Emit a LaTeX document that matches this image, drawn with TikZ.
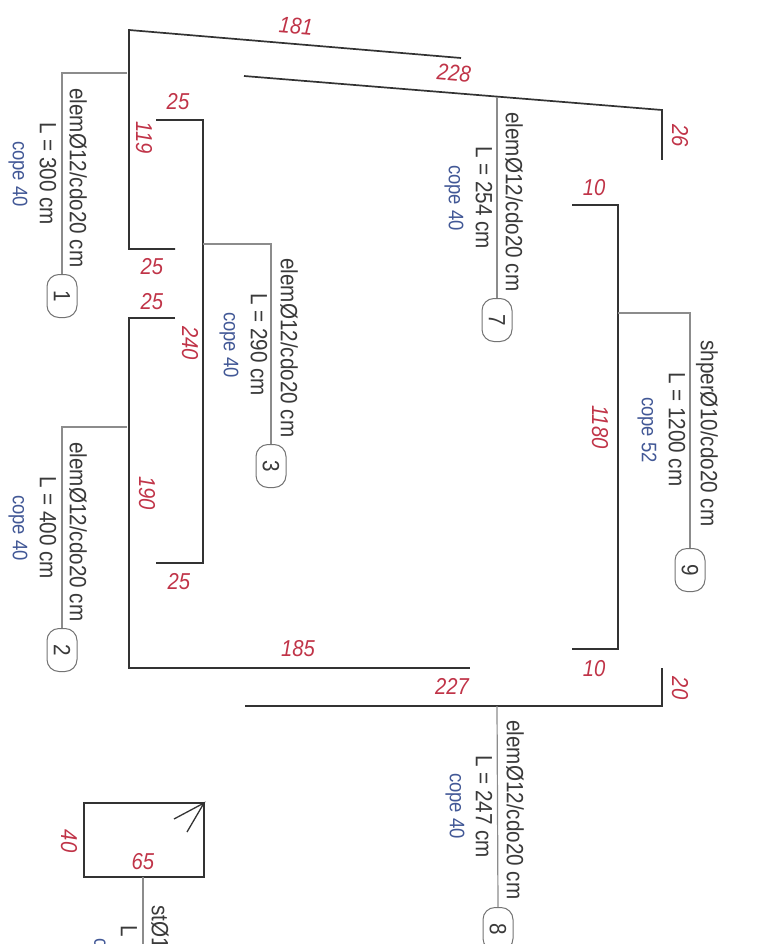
\documentclass[tikz,border=0pt]{standalone}
\usepackage{fontspec}
\setmainfont[FakeStretch=0.88]{Liberation Sans}
\definecolor{dimred}{RGB}{192,52,72}
\definecolor{copeblue}{RGB}{66,88,150}
\definecolor{bartext}{RGB}{58,58,58}
\tikzset{
  barline/.style={draw=black!80,line width=1.7pt,line join=miter},
  branchline/.style={draw=black!45,line width=1.2pt},
  rebartext/.style={rotate=-90,anchor=west,inner sep=0pt,text=bartext,font=\fontsize{23.5}{25}\selectfont},
  copetext/.style={rotate=-90,anchor=west,inner sep=0pt,text=copeblue,font=\fontsize{21}{23}\selectfont},
  dimtext/.style={inner sep=0pt,text=dimred,font=\fontsize{23}{25}\selectfont\itshape},
  dimdown/.style={dimtext,rotate=-90},
  dimtilt/.style={dimtext,rotate=-5},
  numpill/.style={rotate=-90,draw=black!55,line width=1pt,rounded corners=12pt,inner sep=0pt,
    minimum width=43pt,minimum height=30pt,text=bartext,font=\fontsize{23.5}{25}\selectfont},
}
\begin{document}
\begin{tikzpicture}[x=1pt,y=-1pt]
\useasboundingbox (0,0) rectangle (769,944);

% bar 1 and 2, left stirrup
\coordinate (topleft) at (129,30);
\coordinate (topend) at (461,58);
\coordinate (footone) at (175,249);
\coordinate (secondstart) at (244,76);
\coordinate (secondcorner) at (662,110);
\coordinate (secondend) at (662,160);
\draw[barline] (topend) -- (topleft) -- (129,249) -- (footone);
\draw[barline] (secondstart) -- (secondcorner) -- (secondend);

% middle bar
\coordinate (midtop) at (156,120);
\coordinate (midbottom) at (156,563);
\draw[barline] (midtop) -- (203,120) -- (203,563) -- (midbottom);

% lower left bar
\coordinate (lowtop) at (175,318);
\coordinate (lowend) at (470,668);
\draw[barline] (lowtop) -- (129,318) -- (129,668) -- (lowend);
\coordinate (longstart) at (245,706);
\coordinate (longend) at (662,668);
\draw[barline] (longstart) -- (662,706) -- (longend);

% right bar
\coordinate (righttop) at (572,205);
\coordinate (rightbottom) at (572,649);
\draw[barline] (righttop) -- (618,205) -- (618,649) -- (rightbottom);

% stirrup
\coordinate (hookcorner) at (204,803);
\coordinate (hookone) at (174,819);
\coordinate (hooktwo) at (187,832);
\draw[barline] (84,803) rectangle (204,877);
\draw[barline,line width=1.3pt] (hookone) -- (hookcorner) -- (hooktwo);

% marks
\node[numpill] (markone) at (62,296) {1};
\node[numpill] (marktwo) at (62,650) {2};
\node[numpill] (markthree) at (271,466) {3};
\node[numpill] (markseven) at (497,320) {7};
\node[numpill] (markeight) at (498,929) {8};
\node[numpill] (marknine) at (690,570) {9};

\coordinate (juncone) at (127,73);
\coordinate (junctwo) at (127,427);
\coordinate (juncthree) at (203,244);
\coordinate (juncseven) at (497,97);
\coordinate (junceight) at (497,706);
\coordinate (juncnine) at (618,313);
\coordinate (juncstir) at (143,877);
\coordinate (stirfree) at (143,944);
\draw[branchline] (juncone) -| (markone.west);
\draw[branchline] (junctwo) -| (marktwo.west);
\draw[branchline] (juncthree) -| (markthree.west);
\draw[branchline] (juncseven) -- (markseven.west);
\draw[branchline] (junceight) -- (markeight.west);
\draw[branchline] (juncnine) -| (marknine.west);
\draw[branchline] (juncstir) -- (stirfree);

% texts of the bars
\node[rebartext] (elemone) at (78,88) {elemØ12/cdo20 cm};
\node[rebartext] (lenone) at (48,122) {L = 300 cm};
\node[copetext] (copeone) at (18,141) {cope 40};

\node[rebartext] (elemtwo) at (78,442) {elemØ12/cdo20 cm};
\node[rebartext] (lentwo) at (48,476) {L = 400 cm};
\node[copetext] (copetwo) at (18,495) {cope 40};

\node[rebartext] (elemthree) at (289,258) {elemØ12/cdo20 cm};
\node[rebartext] (lenthree) at (259,293) {L = 290 cm};
\node[copetext] (copethree) at (229,312) {cope 40};

\node[rebartext] (elemseven) at (514,112) {elemØ12/cdo20 cm};
\node[rebartext] (lenseven) at (484,146) {L = 254 cm};
\node[copetext] (copeseven) at (454,165) {cope 40};

\node[rebartext] (elemeight) at (515,720) {elemØ12/cdo20 cm};
\node[rebartext] (leneight) at (484,755) {L = 247 cm};
\node[copetext] (copeeight) at (455,773) {cope 40};

\node[rebartext] (elemnine) at (707,340) {shperØ10/cdo20 cm};
\node[rebartext] (lennine) at (677,372) {L = 1200 cm};
\node[copetext] (copenine) at (647,397) {cope 52};

\node[rebartext] (elemstir) at (160,905) {stØ1};
\node[rebartext] (lenstir) at (129,925) {L};
\node[copetext] (copestir) at (100,938) {c};

% dimensions
\node[dimtilt] (dimtop) at (296,26) {181};
\node[dimtilt] (dimsecond) at (454,73) {228};
\node[dimdown] (dimhook) at (680,136) {26};
\node[dimtext] (dimmidtop) at (178,102) {25};
\node[dimdown] (dimleft) at (144,138) {119};
\node[dimtext] (dimfoot) at (152,267) {25};
\node[dimtext] (dimlowtop) at (152,302) {25};
\node[dimdown] (dimmid) at (190,343) {240};
\node[dimdown] (dimlow) at (147,493) {190};
\node[dimtext] (dimmidbot) at (179,582) {25};
\node[dimtext] (dimlowend) at (298,649) {185};
\node[dimtext] (dimlong) at (452,686) {227};
\node[dimtext] (dimrighttop) at (594,188) {10};
\node[dimtext] (dimrightbot) at (594,669) {10};
\node[dimdown] (dimlonghook) at (680,688) {20};
\node[dimdown] (dimright) at (600,427) {1180};
\node[dimdown] (dimstirh) at (69,841) {40};
\node[dimtext] (dimstirw) at (143,862) {65};

\end{tikzpicture}
\end{document}
